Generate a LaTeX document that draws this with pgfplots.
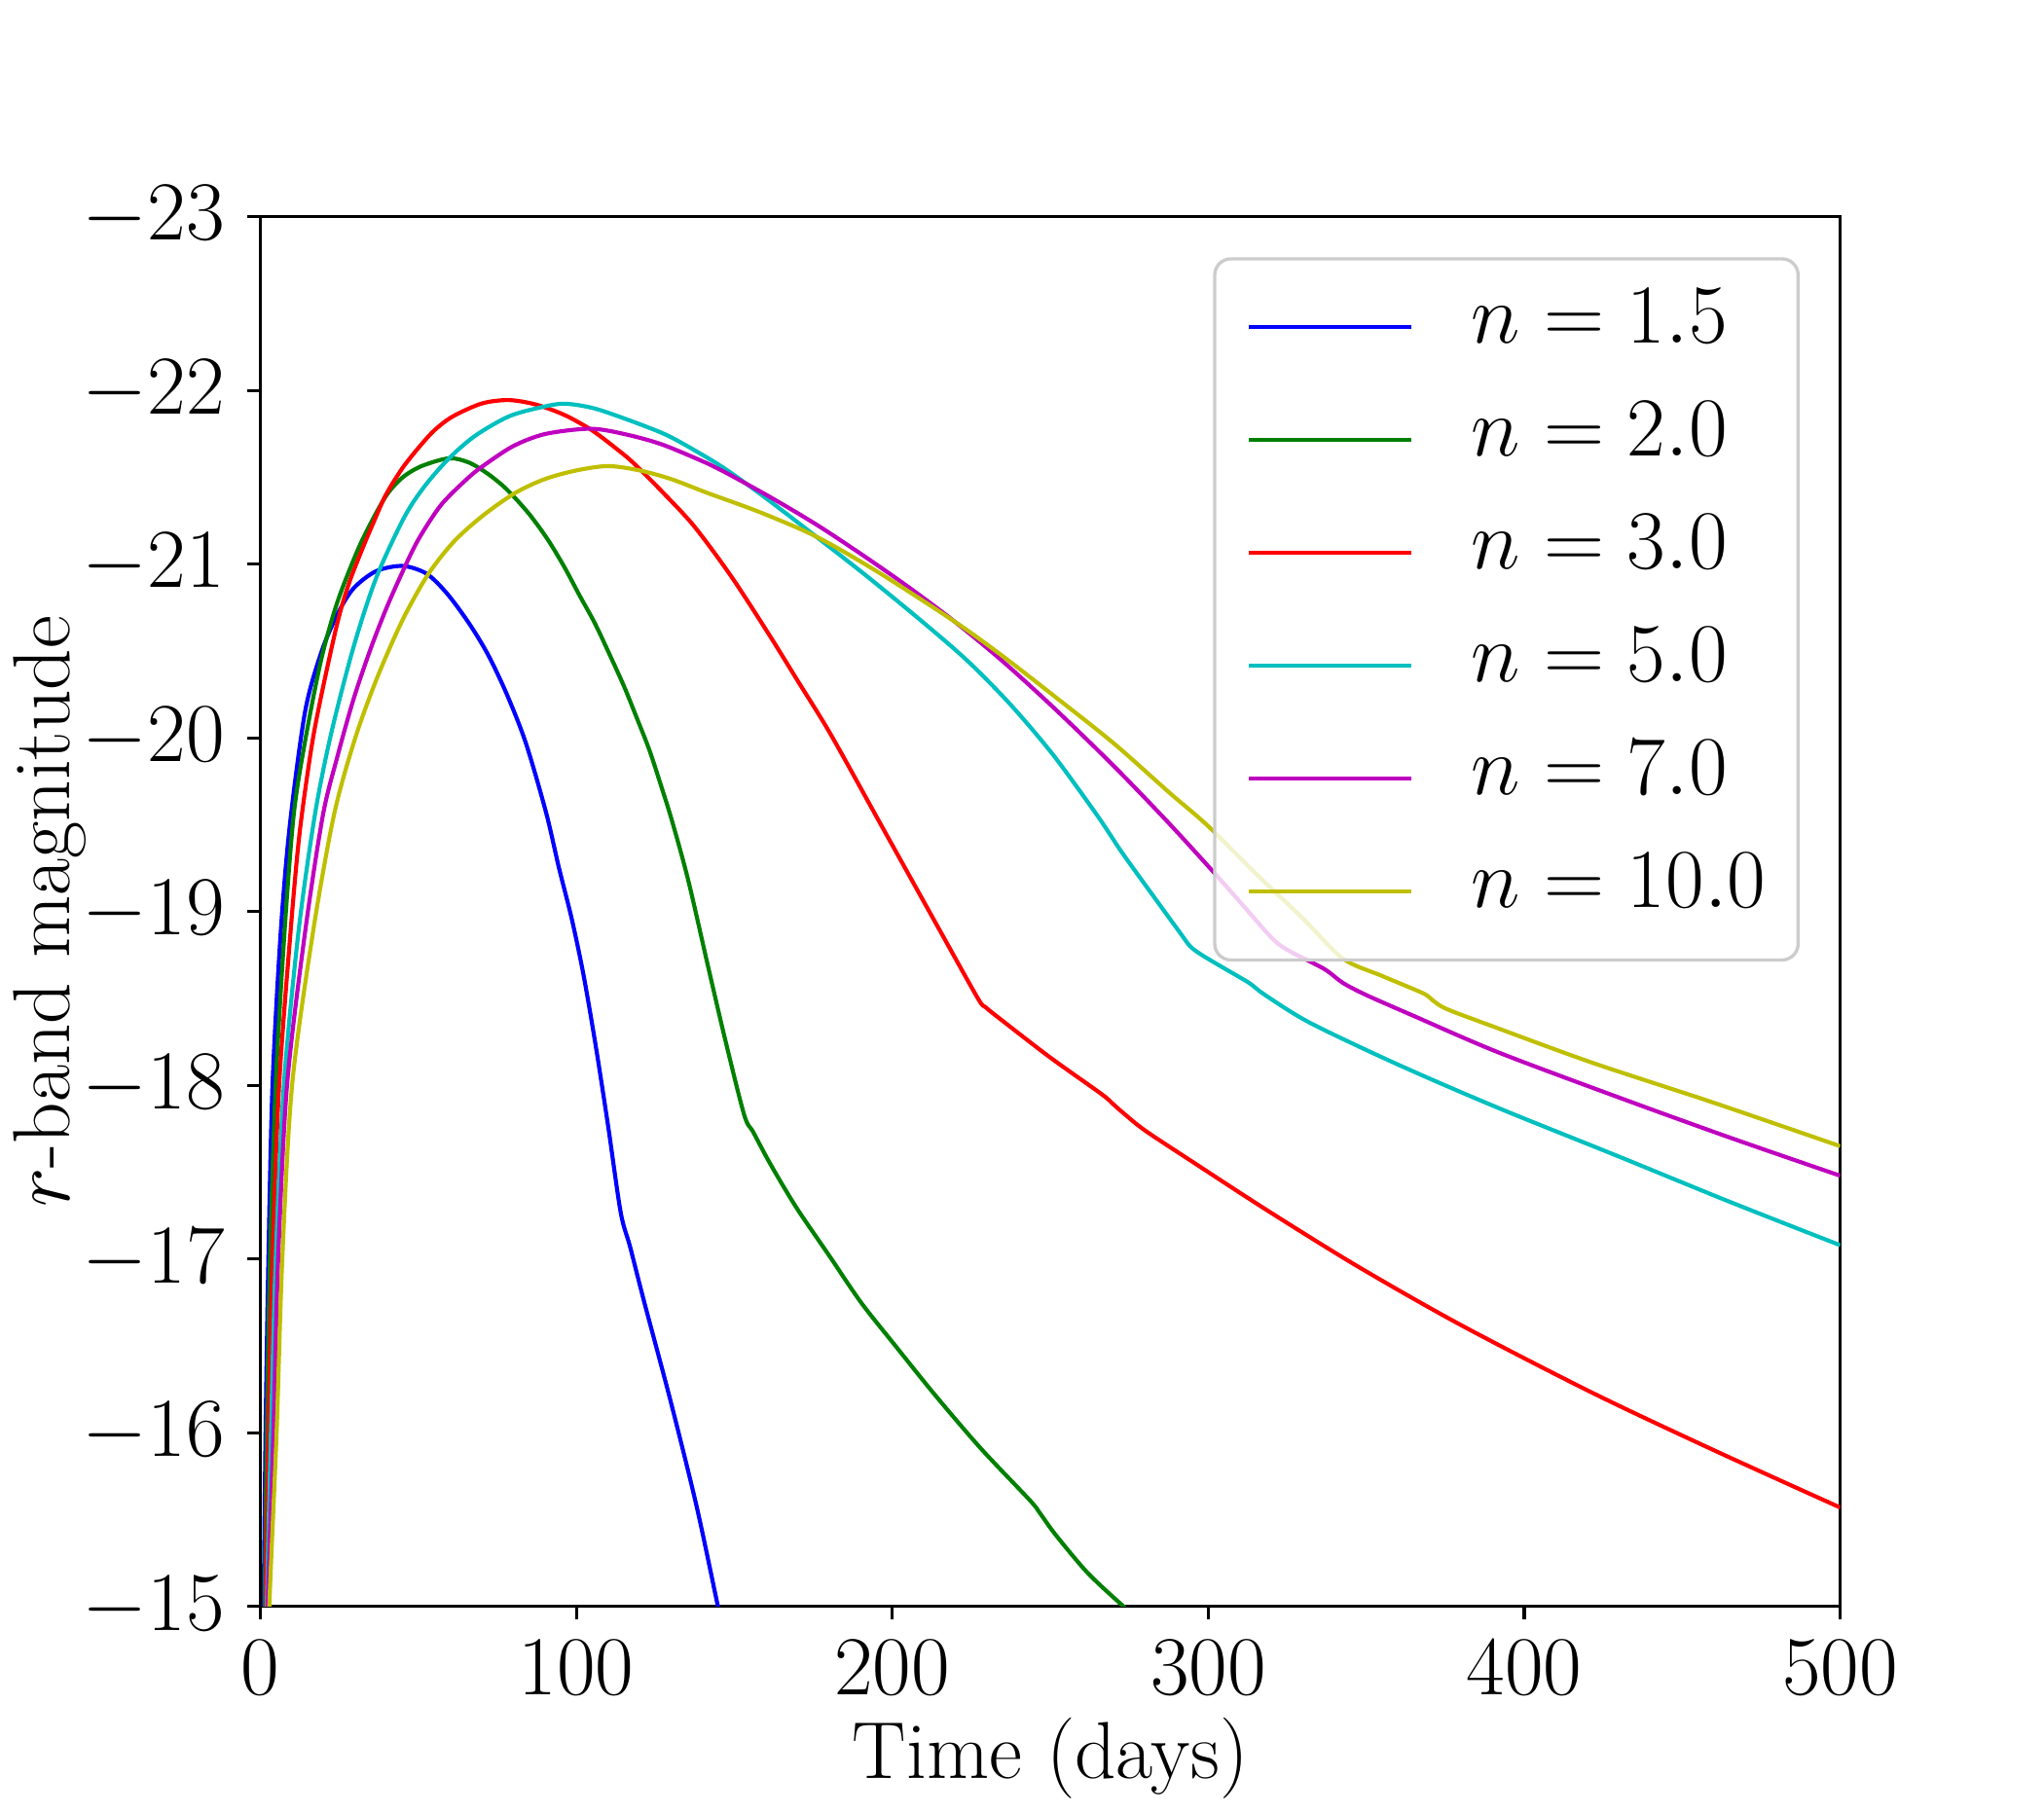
\documentclass[border=0pt]{standalone}
\usepackage{pgfplots}
\pgfplotsset{compat=1.18}
\definecolor{mplb}{rgb}{0,0,1}
\definecolor{mplg}{rgb}{0,0.5,0}
\definecolor{mplr}{rgb}{1,0,0}
\definecolor{mplc}{rgb}{0,0.75,0.75}
\definecolor{mplm}{rgb}{0.75,0,0.75}
\definecolor{mply}{rgb}{0.75,0.75,0}
\begin{document}
\begin{tikzpicture}
\begin{axis}[
  at={(0,0)}, anchor=south west,
  scale only axis, width=390.6pt, height=343.7pt,
  xmin=0, xmax=500, ymin=-23, ymax=-15, y dir=reverse,
  xtick={0,100,200,300,400,500}, ytick={-23,-22,-21,-20,-19,-18,-17,-16,-15},
  tick pos=left, tick align=outside, major tick length=3.2pt,
  tick style={line width=0.8pt, black},
  axis line style={line width=0.8pt},
  ticklabel style={font=\fontsize{20}{24}\selectfont, inner sep=0pt},
  xticklabel style={anchor=north, yshift=-5pt},
  yticklabel style={anchor=east, xshift=-5.5pt},
  xlabel={Time (days)}, ylabel={$r$-band magnitude},
  every axis x label/.style={at={(axis description cs:0.5,-0.12365)}, anchor=base, font=\fontsize{20}{24}\selectfont},
  every axis y label/.style={at={(axis description cs:-0.12084,0.5)}, rotate=90, anchor=base, font=\fontsize{20}{24}\selectfont},
  legend cell align=left,
  legend image code/.code={\draw[#1, line width=1pt] (0pt,0pt) -- (40pt,0pt); \path[draw=none, fill=none] (0pt,0pt) -- (55pt,0pt);},
  legend style={at={(axis description cs:1,1)}, anchor=north east, xshift=-10pt, yshift=-10pt,
    draw=black!20, line width=0.8pt, rounded corners=4pt,
    fill=white, fill opacity=0.8, draw opacity=1, text opacity=1,
    inner xsep=8pt, inner ysep=8pt, row sep=10pt,
    font=\fontsize{20}{24}\selectfont,
    nodes={inner sep=0pt, text height=12.9pt, text depth=5pt, text opacity=1}},
  every axis plot/.append style={line width=1pt, smooth, tension=0.5},
]
\addplot[mplb] coordinates {
(0.7,-14.5) (1.0,-15.0) (1.6,-16.0) (2.5,-17.0) (3.8,-18.0) (6.4,-18.88) (9.3,-19.5)
(14.1,-20.15) (19.2,-20.49) (24.3,-20.71) (29.4,-20.86) (36.6,-20.96) (45,-20.99)
(52.6,-20.945) (59.1,-20.83) (66,-20.66) (72,-20.48) (78,-20.25) (84,-19.97)
(90.4,-19.57) (94.5,-19.25) (98.5,-18.96) (102.2,-18.64) (106,-18.24) (110,-17.77)
(114,-17.27) (117,-17.07) (121.5,-16.75) (129.7,-16.19) (138,-15.58) (144.8,-15.0) (147,-14.82)
};
\addlegendentry{$n = 1.5$}
\addplot[mplg] coordinates {
(1.0,-14.5) (1.3,-15.0) (2.0,-16.0) (3.0,-17.0) (4.8,-18.0) (7.6,-18.88) (10.5,-19.555)
(14.1,-19.98) (19.2,-20.45) (24.3,-20.78) (30.5,-21.07) (35,-21.24) (40,-21.40) (45,-21.50)
(51,-21.565) (59.7,-21.61) (66,-21.585) (72,-21.52) (78,-21.43) (85,-21.29) (91,-21.14)
(96.3,-20.98) (101,-20.82) (105.7,-20.665) (110,-20.50) (115,-20.30) (119,-20.12)
(123.1,-19.93) (126.7,-19.73) (130.3,-19.52) (135.4,-19.18) (141.6,-18.69) (147,-18.27)
(153.1,-17.83) (156,-17.73) (161.3,-17.55) (169.5,-17.30) (180,-17.02) (190.1,-16.75)
(201,-16.50) (213.4,-16.22) (228,-15.91) (243.6,-15.61) (247,-15.53) (251.8,-15.41)
(262,-15.19) (273.8,-14.99) (280,-14.89)
};
\addlegendentry{$n = 2.0$}
\addplot[mplr] coordinates {
(1.3,-14.5) (1.6,-15.0) (2.5,-16.0) (3.8,-17.0) (5.9,-18.0) (9.5,-18.88) (12.3,-19.44)
(16,-19.93) (19.2,-20.24) (24.3,-20.66) (28,-20.89) (32.5,-21.10) (36,-21.25) (39.7,-21.40)
(44.8,-21.55) (50,-21.67) (55,-21.77) (60.8,-21.85) (70,-21.925) (78.5,-21.945) (87,-21.92)
(96.1,-21.86) (105,-21.77) (113.7,-21.65) (118.2,-21.58) (127,-21.42) (137.2,-21.22)
(149,-20.93) (160.8,-20.60) (170,-20.33) (180.5,-20.02) (196.4,-19.50) (205.9,-19.19)
(216,-18.86) (227.1,-18.50) (229.5,-18.45) (235,-18.37) (250,-18.16) (266.2,-17.95)
(270,-17.89) (273.8,-17.83) (280,-17.74) (295,-17.56) (318.7,-17.28) (347.1,-16.96)
(380,-16.62) (421.6,-16.23) (460,-15.90) (500,-15.57)
};
\addlegendentry{$n = 3.0$}
\addplot[mplc] coordinates {
(1.7,-14.5) (2.0,-15.0) (3.3,-16.0) (4.8,-17.0) (7.4,-18.0) (12.0,-18.88) (17.2,-19.555)
(22.3,-20.02) (29.4,-20.52) (36.6,-20.92) (45.5,-21.27) (52,-21.45) (59.7,-21.61) (68,-21.74)
(78.5,-21.85) (88,-21.90) (95.9,-21.924) (105,-21.90) (115,-21.84) (127.8,-21.75) (137,-21.66)
(147,-21.55) (160,-21.38) (175.8,-21.16) (192,-20.93) (210.1,-20.66) (224,-20.44)
(237.5,-20.19) (251,-19.90) (265,-19.55) (272.7,-19.34) (283,-19.08) (291,-18.88)
(294.3,-18.80) (298,-18.75) (305.4,-18.67) (312.9,-18.59) (318,-18.52) (332.2,-18.36)
(360,-18.12) (391.8,-17.87) (430,-17.59) (465,-17.33) (500,-17.08)
};
\addlegendentry{$n = 5.0$}
\addplot[mplm] coordinates {
(2.0,-14.5) (2.3,-15.0) (4.1,-16.0) (5.6,-17.0) (8.4,-18.0) (14.1,-18.88) (19.7,-19.55)
(24.3,-19.89) (29.4,-20.22) (34.6,-20.50) (39.7,-20.74) (44.8,-20.95) (49.9,-21.14)
(57.1,-21.34) (65.3,-21.49) (70.4,-21.565) (80,-21.68) (90.2,-21.75) (104.3,-21.78)
(115,-21.75) (127,-21.69) (141.5,-21.58) (147,-21.53) (161,-21.39) (175.8,-21.23)
(190,-21.06) (205,-20.87) (219.7,-20.67) (235,-20.44) (251.3,-20.17) (270,-19.84)
(288,-19.50) (305,-19.16) (318,-18.89) (321.8,-18.82) (326,-18.77) (336.7,-18.67)
(342.6,-18.59) (350,-18.52) (365,-18.40) (391.8,-18.19) (430,-17.93) (465,-17.70) (500,-17.48)
};
\addlegendentry{$n = 7.0$}
\addplot[mply] coordinates {
(2.5,-14.5) (2.8,-15.0) (5.1,-16.0) (6.9,-17.0) (10,-18.0) (16.6,-18.88) (23.3,-19.56)
(30,-20.0) (37,-20.35) (45,-20.68) (53,-20.94) (61.2,-21.13) (70.4,-21.28) (80.6,-21.41)
(90,-21.49) (100,-21.54) (110,-21.565) (120,-21.54) (130,-21.49) (141.5,-21.41) (158,-21.30)
(175.8,-21.16) (195,-20.96) (219.7,-20.67) (235,-20.47) (251.3,-20.24) (270,-19.97)
(288,-19.68) (299.5,-19.50) (315,-19.22) (330,-18.96) (342.6,-18.73) (355,-18.63)
(368,-18.53) (371,-18.49) (375.4,-18.44) (390,-18.34) (421.6,-18.13) (460,-17.90) (500,-17.65)
};
\addlegendentry{$n = 10.0$}
\end{axis}
\path[use as bounding box] (-63pt,-49.1pt) rectangle (441pt,397.3pt);
\end{tikzpicture}
\end{document}
